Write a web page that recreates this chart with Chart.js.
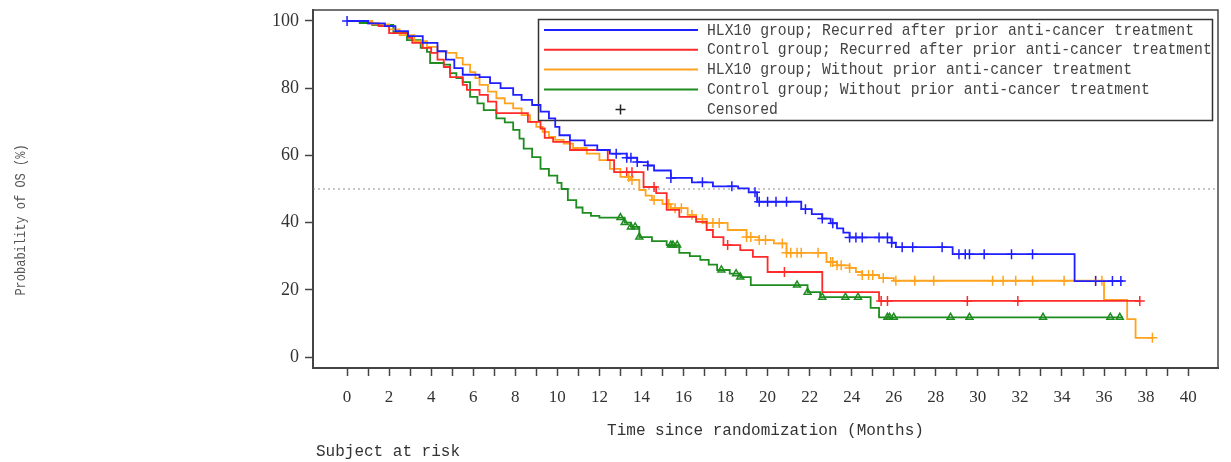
<!DOCTYPE html>
<html>
<head>
<meta charset="utf-8">
<script src="https://cdn.jsdelivr.net/npm/chart.js@4.4.1/dist/chart.umd.min.js"></script>
<style>
  html, body { margin: 0; padding: 0; background: #fff; }
  #wrap { width: 1231px; height: 462px; }
</style>
</head>
<body>
<div id="wrap"><canvas id="osChart" width="1231" height="462"></canvas></div>
<script>
// KM curves: event times (months) and survival (%) after each step
const hlxRecT = [0, 1.0, 1.8, 2.3, 2.9, 3.6, 4.3, 4.7, 5.1, 5.5, 6.3, 6.8, 7.3, 7.9, 8.3, 8.8, 9.2, 9.6, 9.9, 10.1, 10.6, 11.3, 11.9, 12.5, 13.3, 13.8, 14.3, 14.6, 15.4, 16.4, 17.4, 18.6, 19.1, 19.5, 21.6, 22.1, 22.6, 23.0, 23.3, 23.6, 23.9, 25.9, 26.1, 28.8, 34.6, 36.9];
const hlxRecS = [100, 99.3, 98.5, 97, 95.5, 93.5, 91, 88.5, 86, 84, 83.3, 81.5, 80, 78, 76.5, 75, 73, 71, 68.5, 66, 64.5, 63, 61.6, 60.5, 59.3, 58, 57, 55.5, 53.3, 52, 50.8, 50.2, 49, 46.2, 44, 42.5, 41.2, 39.8, 38.3, 37, 35.6, 34, 32.7, 30.6, 22.6, 22.6];
const hlxRecCens = [0, 12.8, 13.3, 13.5, 13.8, 14.3, 15.4, 16.9, 18.3, 19.4, 19.6, 20.0, 20.4, 20.9, 21.8, 22.6, 23.1, 23.9, 24.2, 24.5, 25.3, 25.7, 25.9, 26.4, 26.9, 28.3, 29.1, 29.4, 29.6, 30.3, 31.6, 32.6, 35.6, 36.4, 36.8];

const ctlRecT = [0, 1.0, 1.5, 2.0, 2.9, 3.1, 3.6, 4.0, 4.3, 4.6, 4.9, 5.5, 5.7, 6.3, 6.7, 7.1, 8.6, 9.2, 9.4, 9.8, 10.6, 12.4, 12.7, 14.1, 14.7, 15.2, 15.8, 16.6, 17.1, 17.4, 17.9, 18.7, 19.3, 20.0, 22.6, 25.3, 37.7];
const ctlRecS = [100, 99.3, 98.5, 96.4, 95, 93.5, 92, 90.5, 88.5, 86.3, 83.3, 81, 79.5, 78, 76, 72.6, 70, 68, 65.2, 64, 61.6, 58.6, 55, 50.6, 48.8, 43.8, 41.7, 40.2, 37.8, 35.7, 33.3, 31.8, 29.8, 25.3, 19.3, 16.7, 16.7];
const ctlRecCens = [13.3, 13.55, 14.6, 18.1, 20.8, 25.4, 25.7, 29.5, 31.9, 37.7];

const hlxNoT = [0, 1.2, 2.0, 2.5, 3.2, 3.8, 4.3, 4.75, 5.2, 5.5, 5.85, 6.1, 6.3, 6.7, 7.1, 7.5, 7.9, 8.3, 8.7, 9.0, 9.3, 9.6, 9.9, 10.3, 10.75, 11.4, 12.0, 12.5, 13.0, 13.5, 13.9, 14.2, 14.5, 15.0, 15.4, 16.2, 16.6, 17.1, 18.1, 19.0, 19.6, 20.3, 20.9, 22.8, 23.3, 23.9, 24.2, 24.5, 25.3, 26.0, 36.0, 37.1, 37.5, 38.3];
const hlxNoS = [100, 99, 97.5, 95.8, 94, 92.3, 91, 90.5, 89, 87, 84.8, 83, 81, 79, 77, 75.5, 74, 72, 70, 68.5, 67, 65.5, 64.6, 63.5, 62.2, 60.5, 58.6, 56, 53.6, 52.7, 49.7, 48, 46.7, 45.5, 44.3, 42.3, 41, 39.9, 37.8, 35.7, 34.8, 33.8, 31, 28.3, 27.3, 26.5, 25.3, 24.4, 23.5, 22.7, 17, 11.3, 5.7, 5.7];
const hlxNoCens = [13.4, 13.55, 14.6, 15.3, 15.6, 15.9, 16.4, 16.9, 17.1, 17.4, 17.7, 19.0, 19.2, 19.6, 19.9, 20.7, 20.9, 21.1, 21.4, 21.6, 22.4, 23.0, 23.1, 23.3, 23.5, 23.9, 24.5, 24.8, 25.0, 25.5, 26.1, 27.0, 27.9, 30.7, 31.2, 31.8, 32.6, 34.1, 35.6, 35.9, 38.3];

const ctlNoT = [0, 0.6, 1.2, 2.2, 2.85, 3.5, 3.8, 3.95, 4.6, 4.9, 5.2, 5.5, 5.85, 6.2, 6.5, 7.1, 7.5, 7.9, 8.2, 8.4, 8.8, 9.2, 9.6, 10.0, 10.2, 10.5, 10.9, 11.2, 11.6, 12.0, 13.2, 13.5, 13.9, 14.5, 15.2, 15.8, 16.3, 16.8, 17.2, 17.6, 18.2, 18.7, 19.2, 21.9, 22.5, 24.9, 25.3, 36.9];
const ctlNoS = [100, 99.4, 98.8, 96.7, 94.3, 92, 90.8, 87.5, 87, 84.5, 83, 81.8, 77.4, 75.5, 73.5, 71, 69.8, 67.6, 65, 62, 59.5, 56, 54, 51.8, 50, 46.7, 44.5, 42.9, 42, 41.5, 40, 38.7, 35.7, 34.5, 33.3, 31, 30, 28.9, 27.5, 25.9, 24.8, 23.8, 21.4, 19.3, 17.8, 14.6, 11.8, 11.8];
const ctlNoCens = [13.0, 13.2, 13.5, 13.7, 13.9, 15.4, 15.5, 15.7, 17.8, 18.5, 18.7, 21.4, 21.9, 22.6, 23.7, 24.3, 25.7, 25.8, 26.0, 28.7, 29.6, 33.1, 36.3, 36.75];

const groupLabels = [
    "HLX10 group; Recurred after prior anti-cancer treatment",
    "Control group; Recurred after prior anti-cancer treatment",
    "HLX10 group; Without prior anti-cancer treatment",
    "Control group; Without prior anti-cancer treatment",
];
const groupColors = ["#1f1fff", "#ff2a2a", "#ffa31f", "#1e8c1e"];

const xTicks = [0, 1, 2, 3, 4, 5, 6, 7, 8, 9, 10, 11, 12, 13, 14, 15, 16, 17, 18, 19, 20, 21, 22, 23, 24, 25, 26, 27, 28, 29, 30, 31, 32, 33, 34, 35, 36, 37, 38, 39, 40];
const yTicks = [0, 20, 40, 60, 80, 100];
const refLevel = 50;
const xMin = -1.62, xMax = 41.42;
const yMin = -3.27, yMax = 103.27;

const survAt = (times, surv, t) => {
    let v = surv[0];
    for (let i = 0; i < times.length; i++) {
        if (times[i] <= t) v = surv[i];
    }
    return v;
};

const curve = (label, times, surv, color) => ({
    label,
    data: times.map((t, i) => ({ x: t, y: surv[i] })),
    borderColor: color,
    borderWidth: 1.8,
    stepped: true,
    pointRadius: 0,
    fill: false,
    inLegend: true,
});

const censor = (times, surv, cens, color, style) => ({
    label: "Censored",
    data: cens.map((t) => ({ x: t, y: survAt(times, surv, t) })),
    showLine: false,
    pointStyle: style,
    pointRadius: style === "triangle" ? 4 : 5,
    pointBorderColor: color,
    pointBackgroundColor: "rgba(0,0,0,0)",
    pointBorderWidth: 1.5,
});

const frame = {
    id: "frame",
    afterDraw(chart) {
        const { ctx, chartArea: a } = chart;
        ctx.save();
        ctx.strokeStyle = "#444";
        ctx.lineWidth = 1.5;
        ctx.strokeRect(a.left, a.top, a.right - a.left, a.bottom - a.top);
        ctx.restore();
    },
};

const legendBox = {
    id: "legendBox",
    beforeDatasetsDraw(chart) {
        const ctx = chart.ctx;
        ctx.save();
        ctx.fillStyle = "#fff";
        ctx.fillRect(538, 19, 674, 101);
        ctx.strokeStyle = "#333";
        ctx.lineWidth = 1.5;
        ctx.strokeRect(538.5, 19.5, 674, 101);
        ctx.font = "17px 'Liberation Mono'";
        ctx.textBaseline = "middle";
        const rows = [30, 49.8, 69.6, 89.4, 109.5];
        chart.data.datasets.filter((d) => d.inLegend).forEach((d, i) => {
            ctx.strokeStyle = d.borderColor;
            ctx.lineWidth = 2;
            ctx.beginPath();
            ctx.moveTo(544, rows[i]);
            ctx.lineTo(698, rows[i]);
            ctx.stroke();
            ctx.save();
            ctx.translate(707, rows[i]);
            ctx.scale(0.868, 1);
            ctx.fillStyle = "#444";
            ctx.fillText(d.label, 0, 0);
            ctx.restore();
        });
        ctx.strokeStyle = "#222";
        ctx.lineWidth = 1.5;
        ctx.beginPath();
        ctx.moveTo(615.5, rows[4]);
        ctx.lineTo(625.5, rows[4]);
        ctx.moveTo(620.5, rows[4] - 5);
        ctx.lineTo(620.5, rows[4] + 5);
        ctx.stroke();
        ctx.save();
        ctx.translate(707, rows[4]);
        ctx.scale(0.868, 1);
        ctx.fillStyle = "#444";
        ctx.fillText("Censored", 0, 0);
        ctx.restore();
        ctx.restore();
    },
};

const extraText = {
    id: "extraText",
    afterDraw(chart) {
        const ctx = chart.ctx;
        ctx.save();
        ctx.fillStyle = "#555";
        ctx.textBaseline = "middle";
        ctx.textAlign = "center";
        ctx.font = "15px 'Liberation Mono'";
        ctx.translate(21, 220);
        ctx.rotate(-Math.PI / 2);
        ctx.scale(0.8, 1);
        ctx.fillText("Probability of OS (%)", 0, 0);
        ctx.restore();
        ctx.save();
        ctx.fillStyle = "#333";
        ctx.textBaseline = "middle";
        ctx.font = "16px 'Liberation Mono'";
        ctx.fillText("Subject at risk", 316, 452);
        ctx.restore();
    },
};

const datasets = [
    curve(groupLabels[0], hlxRecT, hlxRecS, groupColors[0]),
    curve(groupLabels[1], ctlRecT, ctlRecS, groupColors[1]),
    curve(groupLabels[2], hlxNoT, hlxNoS, groupColors[2]),
    curve(groupLabels[3], ctlNoT, ctlNoS, groupColors[3]),
    censor(hlxRecT, hlxRecS, hlxRecCens, groupColors[0], "cross"),
    censor(ctlRecT, ctlRecS, ctlRecCens, groupColors[1], "cross"),
    censor(hlxNoT, hlxNoS, hlxNoCens, groupColors[2], "cross"),
    censor(ctlNoT, ctlNoS, ctlNoCens, groupColors[3], "triangle"),
    {
        label: "50%",
        data: [{ x: xMin, y: refLevel }, { x: xMax, y: refLevel }],
        borderColor: "#b5b5b5",
        borderWidth: 1.5,
        borderDash: [2, 3],
        pointRadius: 0,
    },
];

const zeroPad = (s) => {
    s.paddingTop = 0;
    s.paddingBottom = 0;
    s.paddingLeft = 0;
    s.paddingRight = 0;
};

new Chart("osChart", {
    type: "line",
    data: { datasets },
    options: {
        animation: false,
        responsive: false,
        layout: { padding: { left: 0, right: 13, top: 10, bottom: 0 } },
        plugins: { legend: { display: false }, tooltip: { enabled: false } },
        scales: {
            x: {
                type: "linear",
                min: xMin,
                max: xMax,
                afterBuildTicks: (s) => { s.ticks = xTicks.map((v) => ({ value: v })); },
                afterFit: (s) => { s.height = 94; zeroPad(s); },
                grid: { display: true, drawOnChartArea: false, drawTicks: true, tickLength: 8, color: "#444", tickWidth: 1.5 },
                border: { display: true, color: "#444", width: 2 },
                ticks: {
                    autoSkip: false,
                    maxRotation: 0,
                    padding: 11,
                    color: "#333",
                    font: { family: "Liberation Serif", size: 17 },
                    callback: (v) => (v % 2 === 0 ? String(v) : ""),
                },
                title: {
                    display: true,
                    text: "Time since randomization (Months)",
                    color: "#333",
                    font: { family: "Liberation Mono", size: 16 },
                    padding: { top: 0, bottom: 22 },
                },
            },
            y: {
                type: "linear",
                min: yMin,
                max: yMax,
                afterBuildTicks: (s) => { s.ticks = yTicks.map((v) => ({ value: v })); },
                afterFit: (s) => { s.width = 313; zeroPad(s); },
                grid: { display: true, drawOnChartArea: false, drawTicks: true, tickLength: 8, color: "#444", tickWidth: 1.5 },
                border: { display: true, color: "#444", width: 2 },
                ticks: { padding: 6, color: "#333", font: { family: "Liberation Serif", size: 18 } },
            },
        },
    },
    plugins: [frame, legendBox, extraText],
});
</script>
</body>
</html>
